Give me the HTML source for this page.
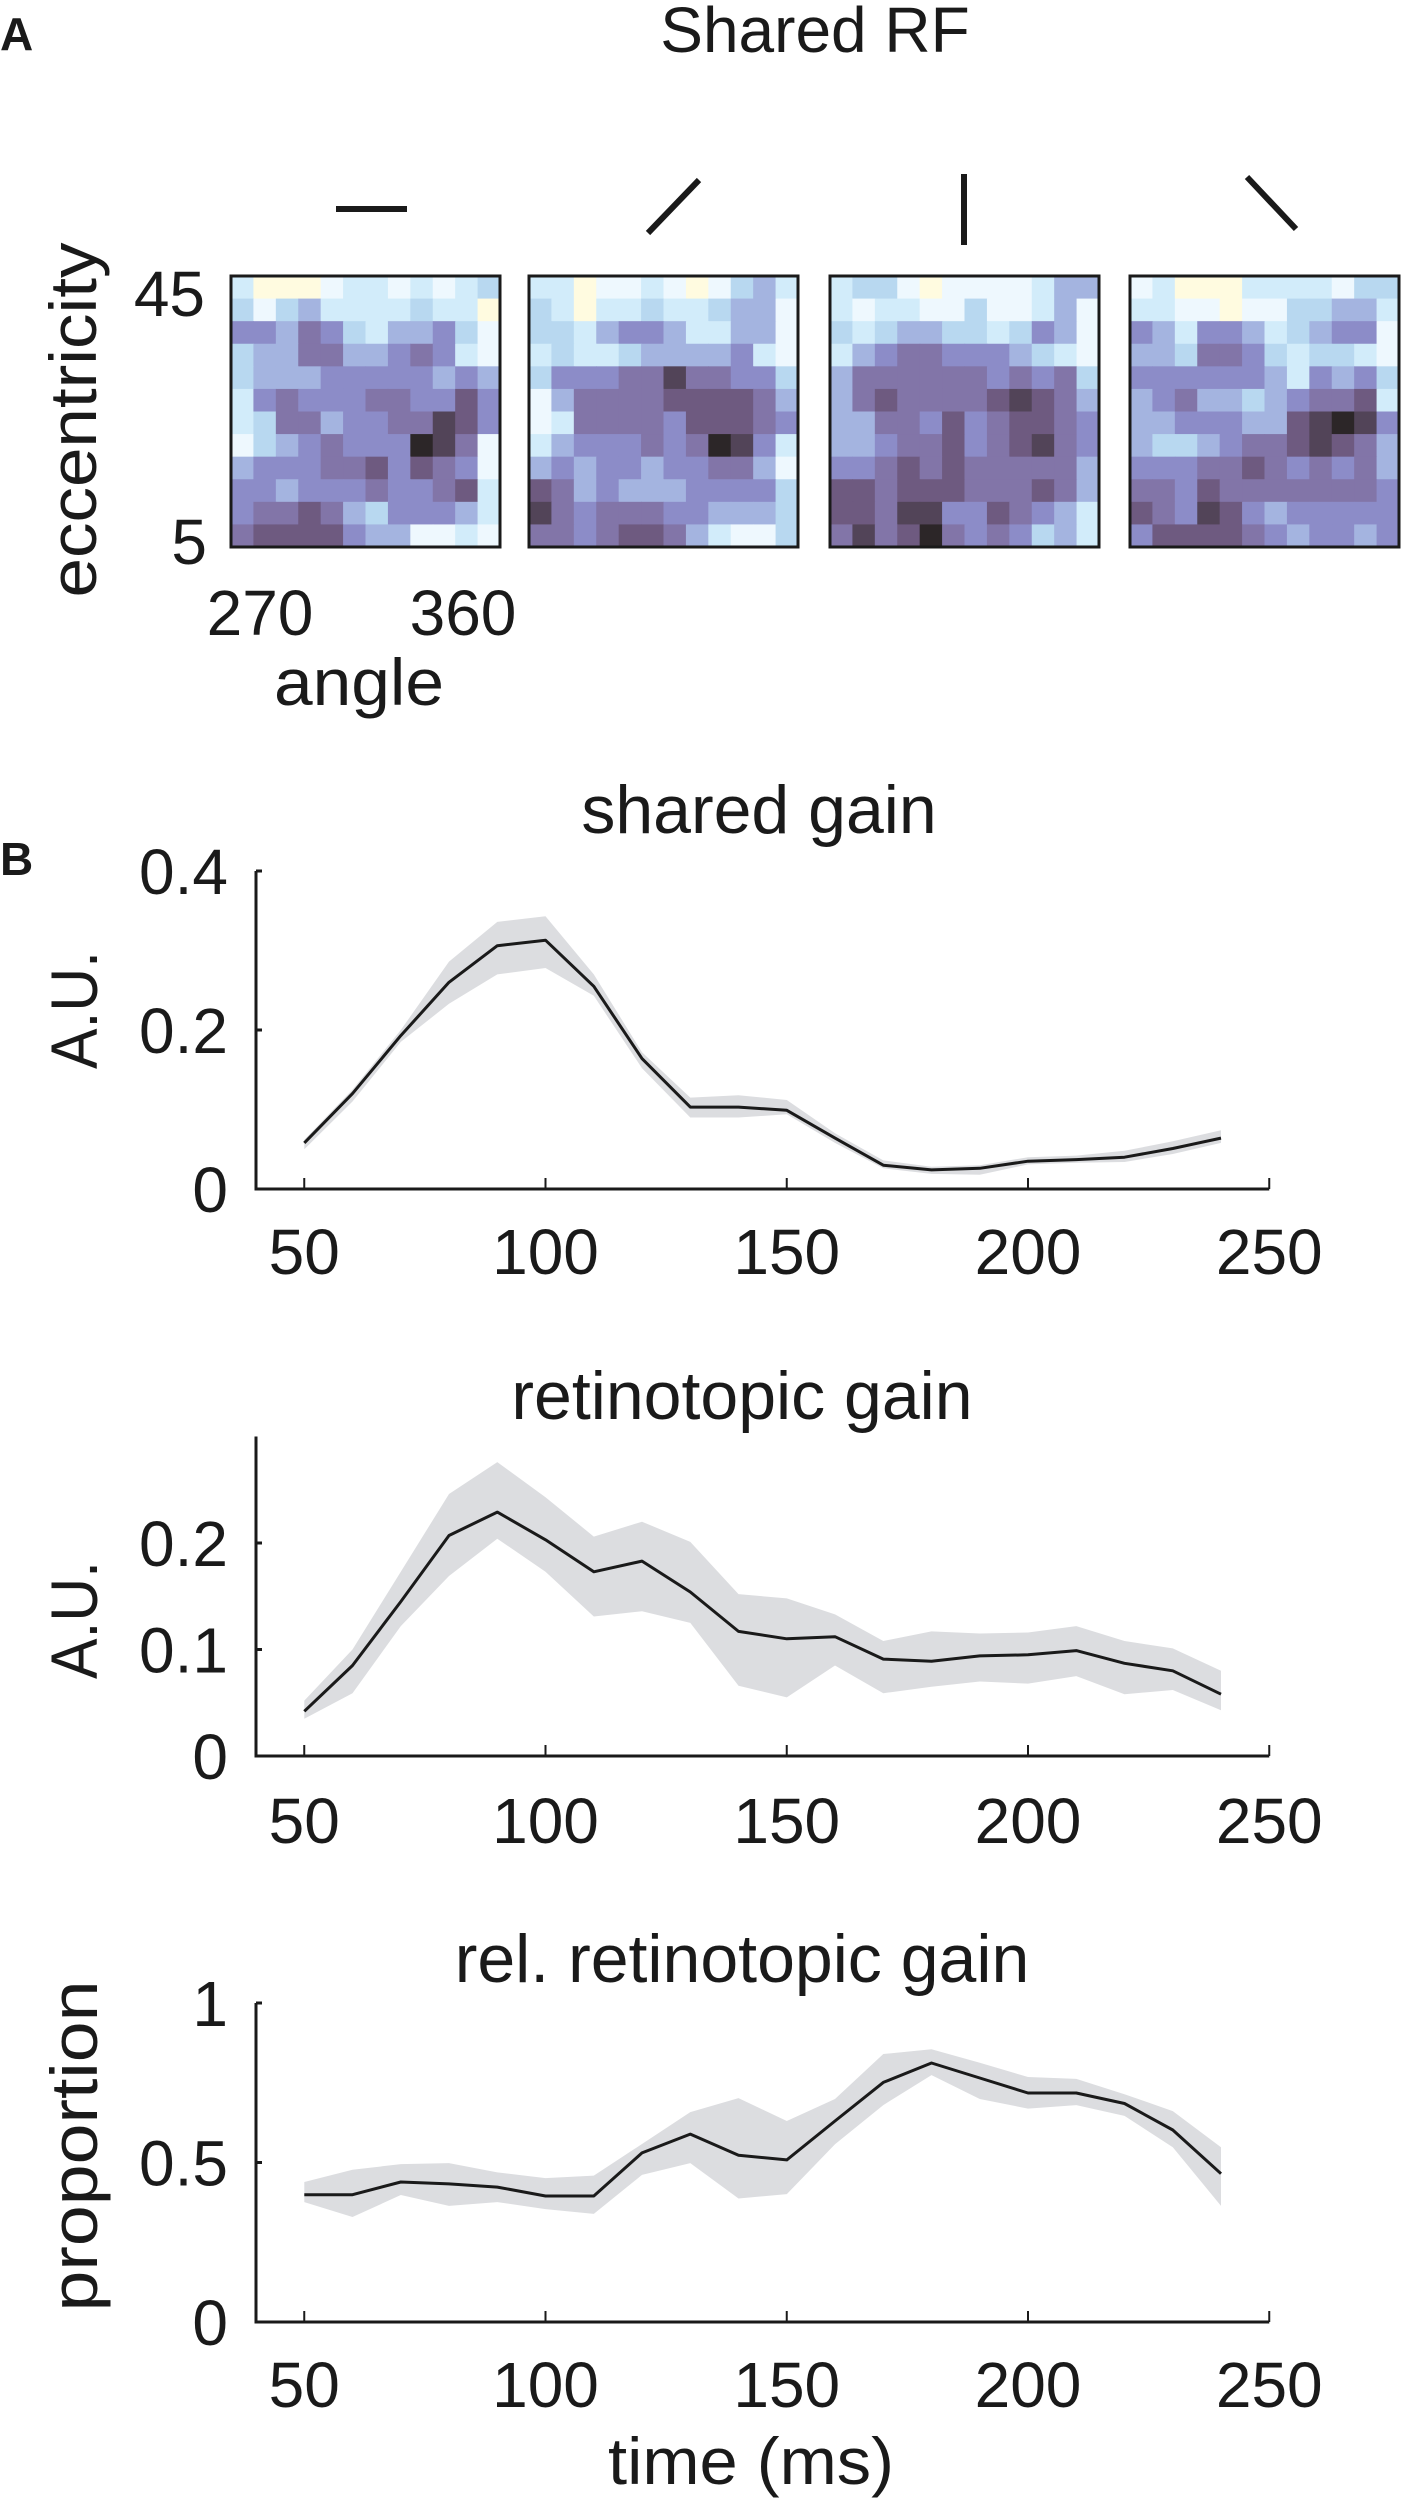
<!DOCTYPE html>
<html><head><meta charset="utf-8"><style>
html,body{margin:0;padding:0;background:#fff}
svg{display:block}
text{font-family:"Liberation Sans",sans-serif;fill:#1a1a1a}
</style></head><body>
<svg id="fig" width="1401" height="2500" viewBox="0 0 1401 2500" xmlns="http://www.w3.org/2000/svg">
<text x="0" y="50" font-size="46" font-weight="bold">A</text>
<text x="815" y="52" font-size="64" text-anchor="middle">Shared RF</text>
<g stroke="#1a1a1a" stroke-width="6">
<line x1="336" y1="209" x2="407" y2="209"/>
<line x1="648" y1="233" x2="699" y2="180"/>
<line x1="964" y1="174" x2="964" y2="245"/>
<line x1="1247" y1="177" x2="1296" y2="229"/>
</g>
<g id="heatmaps"></g>
<text transform="translate(96,420) rotate(-90)" font-size="66" text-anchor="middle" textLength="355" lengthAdjust="spacingAndGlyphs">eccentricity</text>
<text x="205" y="316" font-size="64" text-anchor="end">45</text>
<text x="207" y="564" font-size="64" text-anchor="end">5</text>
<text x="260" y="635" font-size="64" text-anchor="middle">270</text>
<text x="463" y="635" font-size="64" text-anchor="middle">360</text>
<text x="359" y="705" font-size="66" text-anchor="middle" textLength="170" lengthAdjust="spacingAndGlyphs">angle</text>
<text x="0" y="875" font-size="46" font-weight="bold">B</text>
<g id="charts"></g>
<text x="751" y="2484" font-size="66" text-anchor="middle" textLength="286" lengthAdjust="spacingAndGlyphs">time (ms)</text>
</svg>
<script>
// ---------- heatmap data (colour level 0-9) ----------
const rf0 = [
[2,0,0,0,1,2,2,1,2,1,2,3],[3,1,3,4,2,2,2,2,3,2,2,0],[5,5,4,6,5,3,2,4,4,5,3,1],[3,4,4,6,6,4,4,5,6,5,2,1],
[3,4,4,4,5,5,5,5,5,4,5,4],[2,5,6,5,5,5,6,6,5,5,7,5],[2,3,6,6,4,5,5,6,6,8,7,5],[1,3,4,5,6,5,5,5,9,8,6,1],
[4,5,5,5,6,6,7,5,7,6,5,1],[5,5,4,5,5,5,6,5,5,6,7,2],[5,6,6,7,6,4,3,5,5,5,4,2],[6,7,7,7,7,5,4,4,1,1,2,1]];
const rf45 = [
[2,2,0,1,1,2,1,0,1,3,4,2],[3,2,0,2,2,3,2,2,3,4,4,1],[3,3,2,4,5,5,4,2,2,4,4,1],[2,3,2,2,3,4,4,4,4,5,2,1],
[3,5,5,5,6,6,8,6,6,5,5,3],[1,4,6,6,6,6,7,7,7,7,6,4],[1,2,6,6,6,6,5,7,7,7,6,5],[2,4,5,5,5,6,5,6,9,8,5,2],
[4,5,4,5,5,4,5,5,6,6,4,1],[7,6,4,5,4,4,4,5,5,5,5,3],[8,6,5,6,6,6,5,5,4,4,4,3],[6,6,5,6,7,7,6,4,2,1,1,3]];
const rf90 = [
[2,3,3,1,0,1,1,1,1,2,4,4],[2,1,2,2,1,1,3,1,1,2,4,1],[3,2,3,4,4,3,3,2,3,5,4,1],[2,4,5,6,6,5,5,5,4,3,2,1],
[4,6,6,6,6,6,6,5,6,5,6,3],[4,6,7,6,6,6,6,7,8,7,6,4],[4,4,6,6,5,7,5,6,7,7,6,5],[4,4,5,6,6,7,5,6,7,8,6,5],
[5,5,6,7,6,7,6,6,6,6,6,4],[7,7,6,7,7,7,6,6,6,7,6,4],[7,7,6,8,8,5,5,7,6,5,4,2],[6,8,6,7,9,6,5,6,5,3,4,2]];
const rf135 = [
[1,2,0,0,0,2,2,2,2,1,3,3],[2,2,1,1,0,1,1,3,3,4,4,2],[5,4,2,5,5,4,2,3,4,5,5,1],[4,4,3,6,6,5,3,2,3,3,2,1],
[5,5,5,5,5,5,4,2,5,4,5,3],[4,5,6,4,4,3,4,5,6,6,7,2],[4,4,5,5,5,4,4,7,8,9,8,5],[4,3,3,4,5,6,6,7,8,7,6,4],
[5,5,5,6,6,7,6,5,6,5,6,4],[6,6,5,7,6,6,6,6,6,6,6,5],[7,6,5,8,7,5,4,5,5,5,5,5],[5,7,7,7,7,6,5,4,5,5,4,5]];
const rfNames = ['rf-horizontal','rf-diagonal-45','rf-vertical','rf-diagonal-135'];
const cmap = ['#fffbe0','#eef8fe','#d2ecfa','#b8d8f0','#a4b4e0','#8c8cc8','#8275a8','#6e5a80','#524458','#2c2628'];

// ---------- line chart data ----------
const times = [50,60,70,80,90,100,110,120,130,140,150,160,170,180,190,200,210,220,230,240];
const xTicks = [50,100,150,200,250];
const sharedMean = [0.058,0.12,0.193,0.26,0.306,0.313,0.255,0.164,0.103,0.103,0.099,0.064,0.030,0.024,0.026,0.035,0.037,0.040,0.051,0.064];
const sharedHi   = [0.062,0.125,0.2,0.286,0.336,0.343,0.27,0.172,0.115,0.118,0.112,0.07,0.036,0.028,0.03,0.04,0.042,0.048,0.06,0.074];
const sharedLo   = [0.05,0.11,0.185,0.233,0.27,0.278,0.243,0.152,0.09,0.09,0.094,0.058,0.026,0.019,0.018,0.031,0.033,0.034,0.044,0.058];
const sharedTicks = [0,0.2,0.4];
const retMean = [0.042,0.085,0.145,0.207,0.229,0.203,0.173,0.183,0.154,0.117,0.110,0.112,0.091,0.089,0.094,0.095,0.099,0.087,0.080,0.058];
const retHi   = [0.052,0.1,0.173,0.246,0.276,0.243,0.206,0.22,0.201,0.152,0.148,0.133,0.108,0.117,0.115,0.116,0.122,0.108,0.101,0.08];
const retLo   = [0.035,0.059,0.122,0.169,0.204,0.173,0.131,0.136,0.125,0.066,0.055,0.085,0.059,0.065,0.07,0.068,0.075,0.058,0.062,0.043];
const retTicks = [0,0.1,0.2];
const relMean = [0.399,0.399,0.439,0.433,0.423,0.395,0.395,0.53,0.589,0.523,0.508,0.63,0.751,0.812,0.765,0.718,0.718,0.685,0.602,0.465];
const relHi   = [0.439,0.477,0.495,0.498,0.469,0.451,0.459,0.558,0.658,0.702,0.63,0.699,0.84,0.855,0.813,0.768,0.762,0.714,0.661,0.548];
const relLo   = [0.376,0.329,0.398,0.364,0.376,0.354,0.339,0.461,0.498,0.387,0.401,0.557,0.68,0.774,0.699,0.669,0.68,0.646,0.548,0.364];
const relTicks = [0,0.5,1];
const relTickLabels = ['0','0.5','1'];

const NS='http://www.w3.org/2000/svg';
function mk(tag, attrs, parent){const e=document.createElementNS(NS,tag);for(const k in attrs)e.setAttribute(k,attrs[k]);parent.appendChild(e);return e;}

// heatmaps
const hm = document.getElementById('heatmaps');
const boxX = [231,529,830,1130], boxY=276, boxW=269, boxH=271;
[rf0,rf45,rf90,rf135].forEach((m,bi)=>{
  const g = mk('g',{},hm);
  
  
  const rows=m.length, cols=m[0].length, cw=boxW/cols, ch=boxH/rows;
  m.forEach((row,r)=>row.forEach((v,c)=>{
    const cell = mk('rect',{x:(boxX[bi]+c*cw).toFixed(2),y:(boxY+r*ch).toFixed(2),width:(cw+0.6).toFixed(2),height:(ch+0.6).toFixed(2),fill:cmap[v]},g);
    
    
  }));
  const b = mk('rect',{x:boxX[bi],y:boxY,width:boxW,height:boxH,fill:'none',stroke:'#1a1a1a','stroke-width':3},g);
  
  
});

// charts
const charts = document.getElementById('charts');
const X0=256, XPX=4.825, XMIN=40, XMAX=250;
function xs(t){return X0+(t-XMIN)*XPX;}
function drawChart(cfg){
  const g = mk('g',{},charts);
  
  
  const ys = v => cfg.y0 - v*cfg.k;
  // band
  let d = times.map((t,i)=>(i?'L':'M')+xs(t).toFixed(1)+','+ys(cfg.hi[i]).toFixed(1)).join('');
  for(let i=times.length-1;i>=0;i--) d+='L'+xs(times[i]).toFixed(1)+','+ys(cfg.lo[i]).toFixed(1);
  const band = mk('path',{d:d+'Z',fill:'#dcdde0',stroke:'none'},g);
  
  
  const line = mk('path',{d:times.map((t,i)=>(i?'L':'M')+xs(t).toFixed(1)+','+ys(cfg.mean[i]).toFixed(1)).join(''),fill:'none',stroke:'#1a1a1a','stroke-width':3,'stroke-linejoin':'round'},g);
  
  
  // axes
  const yTop = ys(cfg.top);
  const ax = mk('path',{d:`M${xs(XMIN)},${yTop}L${xs(XMIN)},${cfg.y0}L${xs(XMAX)},${cfg.y0}`,fill:'none',stroke:'#1a1a1a','stroke-width':3},g);
  
  
  xTicks.forEach(t=>{
    const tk = mk('line',{x1:xs(t),x2:xs(t),y1:cfg.y0,y2:cfg.y0-11,stroke:'#1a1a1a','stroke-width':2},g);
    
    
    const tl = mk('text',{x:xs(t),y:cfg.xLabelY,'font-size':64,'text-anchor':'middle'},g);
    tl.textContent = String(t);
    
    
  });
  cfg.ticks.forEach((v,i)=>{
    const tk = mk('line',{x1:xs(XMIN),x2:xs(XMIN)+6,y1:ys(v),y2:ys(v),stroke:'#1a1a1a','stroke-width':3},g);
    
    
    const tl = mk('text',{x:228,y:ys(v)+23,'font-size':64,'text-anchor':'end'},g);
    tl.textContent = cfg.labels ? cfg.labels[i] : String(v);
    
    
  });
  const tt = mk('text',{x:cfg.titleX,y:cfg.titleY,'font-size':68,'text-anchor':'middle'},g);
  tt.textContent = cfg.title;
  
  
  const yl = mk('text',{transform:`translate(97,${cfg.ylY}) rotate(-90)`,'font-size':66,'text-anchor':'middle',textLength:cfg.ylLen,lengthAdjust:'spacingAndGlyphs'},g);
  yl.textContent = cfg.ylabel;
  
  
}
drawChart({name:'shared-gain-chart',y0:1189,k:795,top:0.4,mean:sharedMean,hi:sharedHi,lo:sharedLo,ticks:sharedTicks,xLabelY:1274,title:'shared gain',titleX:759,titleY:833,ylabel:'A.U.',ylY:1010,ylLen:118});
drawChart({name:'retinotopic-gain-chart',y0:1756,k:1065,top:0.3,mean:retMean,hi:retHi,lo:retLo,ticks:retTicks,xLabelY:1843,title:'retinotopic gain',titleX:742,titleY:1419,ylabel:'A.U.',ylY:1620,ylLen:118});
drawChart({name:'rel-retinotopic-gain-chart',y0:2322,k:319,top:1,mean:relMean,hi:relHi,lo:relLo,ticks:relTicks,labels:relTickLabels,xLabelY:2407,title:'rel. retinotopic gain',titleX:742,titleY:1982,ylabel:'proportion',ylY:2146,ylLen:331});
</script>
</body></html>
